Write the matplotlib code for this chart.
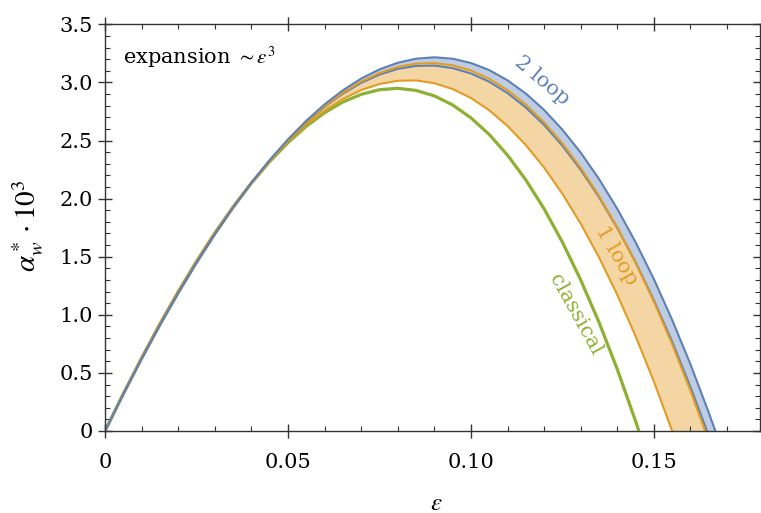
import matplotlib
matplotlib.use("Agg")
import matplotlib.pyplot as plt
from matplotlib.ticker import MultipleLocator

plt.rcParams['font.family'] = ['DejaVu Serif']
plt.rcParams['mathtext.fontset'] = 'stix'

# epsilon grid
EPS = [0.000, 0.005, 0.010, 0.015, 0.020, 0.025, 0.030, 0.035, 0.040, 0.045,
       0.050, 0.055, 0.060, 0.065, 0.070, 0.075, 0.080, 0.085, 0.090, 0.095,
       0.100, 0.105, 0.110, 0.115, 0.120, 0.125, 0.130, 0.135, 0.140, 0.145,
       0.150, 0.155, 0.160, 0.165]

# classical
eps_cl = EPS[:30] + [0.1459]
a_cl = [0, .320, .627, .920, 1.197, 1.458, 1.702, 1.927, 2.133, 2.318,
        2.481, 2.622, 2.739, 2.831, 2.897, 2.937, 2.949, 2.931, 2.884, 2.806,
        2.695, 2.552, 2.374, 2.161, 1.912, 1.625, 1.300, .936, .531, .085, 0]

# 1 loop band (lower / upper)
eps_1lo = EPS[:31] + [0.155]
a_1lo = [0, .324, .634, .928, 1.206, 1.466, 1.709, 1.934, 2.140, 2.326,
         2.491, 2.635, 2.757, 2.857, 2.934, 2.986, 3.014, 3.017, 2.993, 2.943,
         2.866, 2.760, 2.625, 2.461, 2.267, 2.041, 1.784, 1.495, 1.172, .816,
         .426, 0]
eps_1hi = EPS[:33] + [0.164]
a_1hi = [0, .316, .619, .908, 1.184, 1.444, 1.689, 1.918, 2.130, 2.324,
         2.500, 2.657, 2.794, 2.911, 3.007, 3.081, 3.133, 3.162, 3.166, 3.147,
         3.102, 3.031, 2.933, 2.809, 2.656, 2.475, 2.264, 2.023, 1.752, 1.449,
         1.114, .747, .346, 0]

# 2 loop band (lower / upper)
eps_2lo = EPS[:33] + [0.1645]
a_2lo = [0, .319, .625, .916, 1.192, 1.453, 1.697, 1.925, 2.135, 2.327,
         2.500, 2.654, 2.789, 2.903, 2.996, 3.067, 3.116, 3.142, 3.145, 3.123,
         3.077, 3.006, 2.908, 2.784, 2.634, 2.455, 2.248, 2.012, 1.747, 1.452,
         1.125, .768, .378, 0]
eps_2hi = EPS[:34] + [0.1668]
a_2hi = [0, .315, .618, .908, 1.184, 1.445, 1.691, 1.921, 2.135, 2.332,
         2.510, 2.670, 2.811, 2.932, 3.033, 3.112, 3.169, 3.204, 3.216, 3.204,
         3.167, 3.106, 3.018, 2.904, 2.763, 2.593, 2.396, 2.169, 1.912, 1.625,
         1.307, .956, .574, .158, 0]

xticks = [0, 0.05, 0.10, 0.15]
xlabels = ['0', '0.05', '0.10', '0.15']
yticks = [0, 0.5, 1.0, 1.5, 2.0, 2.5, 3.0, 3.5]
ylabels = ['0', '0.5', '1.0', '1.5', '2.0', '2.5', '3.0', '3.5']

blue = '#5e81b5'
orange = '#e19c24'
green = '#8fb032'

fig = plt.figure(figsize=(7.61, 5.13), dpi=100)
ax = fig.add_axes([105/761, 82/513, 655/761, 406.7/513])

# bands
ax.fill(eps_2hi + eps_2lo[::-1], a_2hi + a_2lo[::-1], color='#bfcde3', lw=0)
ax.fill(eps_1hi + eps_1lo[::-1], a_1hi + a_1lo[::-1], color='#f4d6a4', lw=0)

ax.plot(eps_cl, a_cl, color=green, lw=2.3, solid_capstyle='butt')
ax.plot(eps_1lo, a_1lo, color=orange, lw=1.5)
ax.plot(eps_2lo, a_2lo, color=blue, lw=1.5)
ax.plot(eps_1hi, a_1hi, color=orange, lw=1.5)
ax.plot(eps_2hi, a_2hi, color=blue, lw=1.5)

ax.set_xlim(0, 0.179)
ax.set_ylim(0, 3.5)
ax.set_xticks(xticks, xlabels)
ax.set_yticks(yticks, ylabels)
ax.xaxis.set_minor_locator(MultipleLocator(0.01))
ax.yaxis.set_minor_locator(MultipleLocator(0.1))

for s in ax.spines.values():
    s.set_color('#333333')
    s.set_linewidth(1.0)
ax.tick_params(which='major', direction='inout', length=9.5, width=1.0,
               color='#333333', top=True, right=True, labelsize=15)
ax.tick_params(which='minor', direction='in', length=3.6, width=0.8,
               color='#333333', top=True, right=True)
ax.tick_params(axis='x', which='major', pad=11)
ax.tick_params(axis='y', which='major', pad=4)

ax.text(0.027, 0.918, r'expansion $\sim\epsilon^3$', transform=ax.transAxes,
        fontsize=15, ha='left', va='center')

ax.text(0.1195, 3.015, '2 loop', color=blue, fontsize=15, rotation=-40,
        ha='center', va='center')
ax.text(0.1399, 1.51, '1 loop', color=orange, fontsize=15, rotation=-60,
        ha='center', va='center')
ax.text(0.1287, 1.00, 'classical', color=green, fontsize=15, rotation=-61,
        ha='center', va='center')

fig.text(28/761, 1 - 226/513, r'$\alpha^*_w\cdot 10^3$', rotation=90,
         fontsize=21, ha='center', va='center')
fig.text(436/761, 1 - 503/513, r'$\epsilon$', fontsize=18,
         ha='center', va='center')

fig.savefig('out.png', dpi=100)
